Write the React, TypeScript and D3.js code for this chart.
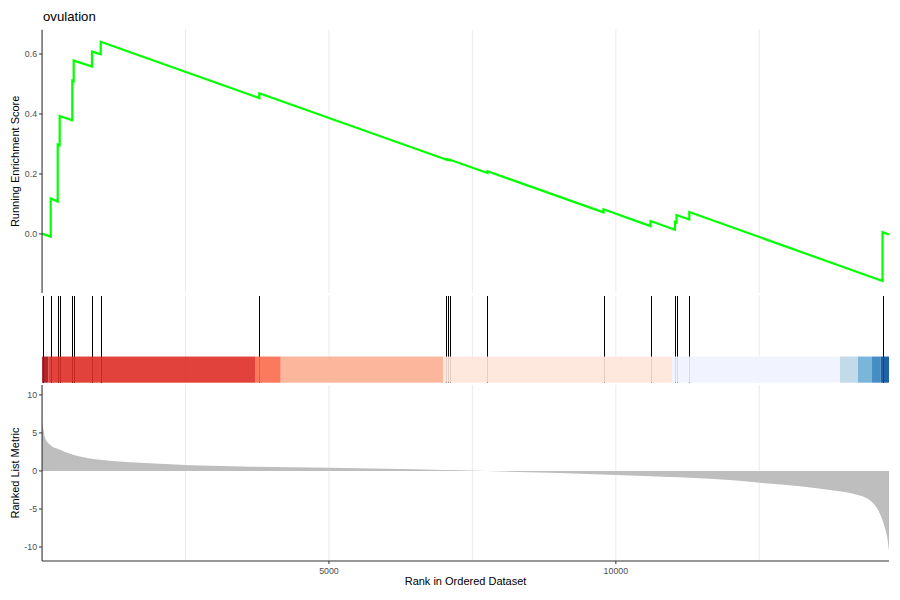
import React from "react";
import * as d3 from "d3";

const TITLE = "ovulation";
const N_GENES = 14760;

const HIT_RANKS = [12, 152, 274, 308, 528, 552, 871, 1023, 3787, 7040, 7075, 7110, 7763, 9785, 10604, 11031, 11057, 11280, 14647];

const ES_RANKS = [1, 12, 152, 152, 274, 274, 308, 308, 528, 528, 552, 552, 871, 871, 1023, 1023, 3787, 3787, 7040, 7040, 7075, 7075, 7110, 7110, 7763, 7763, 9785, 9785, 10604, 10604, 11031, 11031, 11057, 11057, 11280, 11280, 14647, 14647, 14760];
const ES_VALUES = [0.0, 0.0, -0.009, 0.118, 0.108, 0.298, 0.296, 0.393, 0.379, 0.511, 0.509, 0.578, 0.558, 0.608, 0.599, 0.641, 0.453, 0.469, 0.248, 0.2495, 0.247, 0.2485, 0.246, 0.2475, 0.203, 0.209, 0.072, 0.082, 0.026, 0.043, 0.014, 0.040, 0.038, 0.063, 0.048, 0.073, -0.157, 0.006, -0.002];

const METRIC_RANKS = [1, 12, 30, 52, 140, 314, 488, 662, 1010, 1533, 2230, 2752, 3500, 5000, 6000, 7000, 7600, 8500, 9500, 10500, 11115, 11986, 12509, 13206, 13728, 14077, 14425, 14599, 14686, 14730, 14760];
const METRIC_VALUES = [6.5, 5.9, 5.2, 4.4, 3.45, 2.8, 2.26, 1.9, 1.46, 1.15, 0.89, 0.72, 0.58, 0.42, 0.28, 0.12, 0.02, -0.18, -0.4, -0.65, -0.84, -1.2, -1.55, -2.0, -2.5, -2.9, -3.85, -5.6, -7.4, -8.8, -10.5];

const BAND_STARTS = [1, 110, 3712, 4160, 6988, 10978, 13906, 14220, 14464, 14615];
const BAND_COLORS = ["#A50F15", "#DE2D26", "#FB6A4A", "#FCAE91", "#FEE5D9", "#EFF3FF", "#BDD7E7", "#6BAED6", "#3182BD", "#08519C"];

const X_TICKS = [5000, 10000];
const X_GRID = [2500, 5000, 7500, 10000, 12500];
const ES_TICKS = [0.0, 0.2, 0.4, 0.6];
const METRIC_TICKS = [-10, -5, 0, 5, 10];

const FONT = "'Liberation Sans', Arial, Helvetica, sans-serif";

export default function App() {
  const W = 900, H = 600;
  const left = 42.06, right = 889;
  const x = d3.scaleLinear().domain([1, N_GENES]).range([left, right]);

  const esTop = 29.7, esBottom = 293;
  const yES = d3.scaleLinear().domain([-0.197, 0.681]).range([esBottom, esTop]);

  const midTop = 295.5, midBottom = 382.7;
  const yMid = d3.scaleLinear().domain([0, 1]).range([midBottom, midTop]);

  const mTop = 385, mBottom = 561;
  const yM = d3.scaleLinear().domain([-11.84, 11.3]).range([mBottom, mTop]);

  const esLine = d3.line<number>()
    .x((_, i) => x(ES_RANKS[i]))
    .y((v) => yES(v))(ES_VALUES) || "";

  const metricArea = d3.area<number>()
    .x((_, i) => x(METRIC_RANKS[i]))
    .y0(() => yM(0))
    .y1((v) => yM(v))
    .curve(d3.curveMonotoneX)(METRIC_VALUES) || "";

  const tickColor = "#4D4D4D";
  const axisColor = "#333333";
  const gridColor = "#EBEBEB";

  return (
    <svg width={W} height={H} style={{ position: "absolute", left: 0, top: 0, background: "#fff", fontFamily: FONT }}>
      <rect x={0} y={0} width={W} height={H} fill="#fff" />
      <text x={43} y={21} fontSize={13.2} fill="#000">{TITLE}</text>

      {X_GRID.map((g) => (
        <g key={"g" + g}>
          <line x1={x(g)} x2={x(g)} y1={esTop} y2={esBottom} stroke={gridColor} strokeWidth={1} />
          <line x1={x(g)} x2={x(g)} y1={midTop} y2={midBottom} stroke={gridColor} strokeWidth={1} />
          <line x1={x(g)} x2={x(g)} y1={mTop} y2={mBottom} stroke={gridColor} strokeWidth={1} />
        </g>
      ))}

      <path d={esLine} fill="none" stroke="#00FF00" strokeWidth={2.2} strokeLinejoin="miter" />
      <line x1={left} x2={left} y1={esTop} y2={esBottom} stroke={axisColor} strokeWidth={1.1} />
      {ES_TICKS.map((t) => (
        <g key={"es" + t}>
          <line x1={left - 3} x2={left} y1={yES(t)} y2={yES(t)} stroke={axisColor} strokeWidth={1} />
          <text x={left - 5} y={yES(t)} dy="0.35em" textAnchor="end" fontSize={8.8} fill={tickColor}>{t.toFixed(1)}</text>
        </g>
      ))}
      <text transform={`translate(19,${(esTop + esBottom) / 2}) rotate(-90)`} textAnchor="middle" fontSize={11} fill="#000">Running Enrichment Score</text>

      {HIT_RANKS.map((r, i) => {
        const hx = Math.round(x(r)) + 0.5;
        return (
          <line key={"h" + i} x1={hx} x2={hx} y1={yMid(0)} y2={yMid(1)} stroke="#000" strokeWidth={1} shapeRendering="crispEdges" />
        );
      })}
      {BAND_STARTS.map((s, i) => {
        const e = i < BAND_STARTS.length - 1 ? BAND_STARTS[i + 1] : N_GENES;
        return (
          <rect key={"b" + i} x={x(s)} y={yMid(0.3)} width={x(e) - x(s)} height={yMid(0) - yMid(0.3)} fill={BAND_COLORS[i]} fillOpacity={0.9} />
        );
      })}

      <path d={metricArea} fill="#BEBEBE" stroke="none" />
      <line x1={left} x2={left} y1={mTop} y2={mBottom} stroke={axisColor} strokeWidth={1.1} />
      <line x1={left} x2={right} y1={mBottom} y2={mBottom} stroke={axisColor} strokeWidth={1.1} />
      {METRIC_TICKS.map((t) => (
        <g key={"m" + t}>
          <line x1={left - 3} x2={left} y1={yM(t)} y2={yM(t)} stroke={axisColor} strokeWidth={1} />
          <text x={left - 5} y={yM(t)} dy="0.35em" textAnchor="end" fontSize={8.8} fill={tickColor}>{t}</text>
        </g>
      ))}
      {X_TICKS.map((t) => (
        <g key={"x" + t}>
          <line x1={x(t)} x2={x(t)} y1={mBottom} y2={mBottom + 3} stroke={axisColor} strokeWidth={1} />
          <text x={x(t)} y={mBottom + 13} textAnchor="middle" fontSize={8.8} fill={tickColor}>{t}</text>
        </g>
      ))}
      <text transform={`translate(19,${(mTop + mBottom) / 2}) rotate(-90)`} textAnchor="middle" fontSize={11} fill="#000">Ranked List Metric</text>
      <text x={(left + right) / 2} y={585} textAnchor="middle" fontSize={11} fill="#000">Rank in Ordered Dataset</text>
    </svg>
  );
}
